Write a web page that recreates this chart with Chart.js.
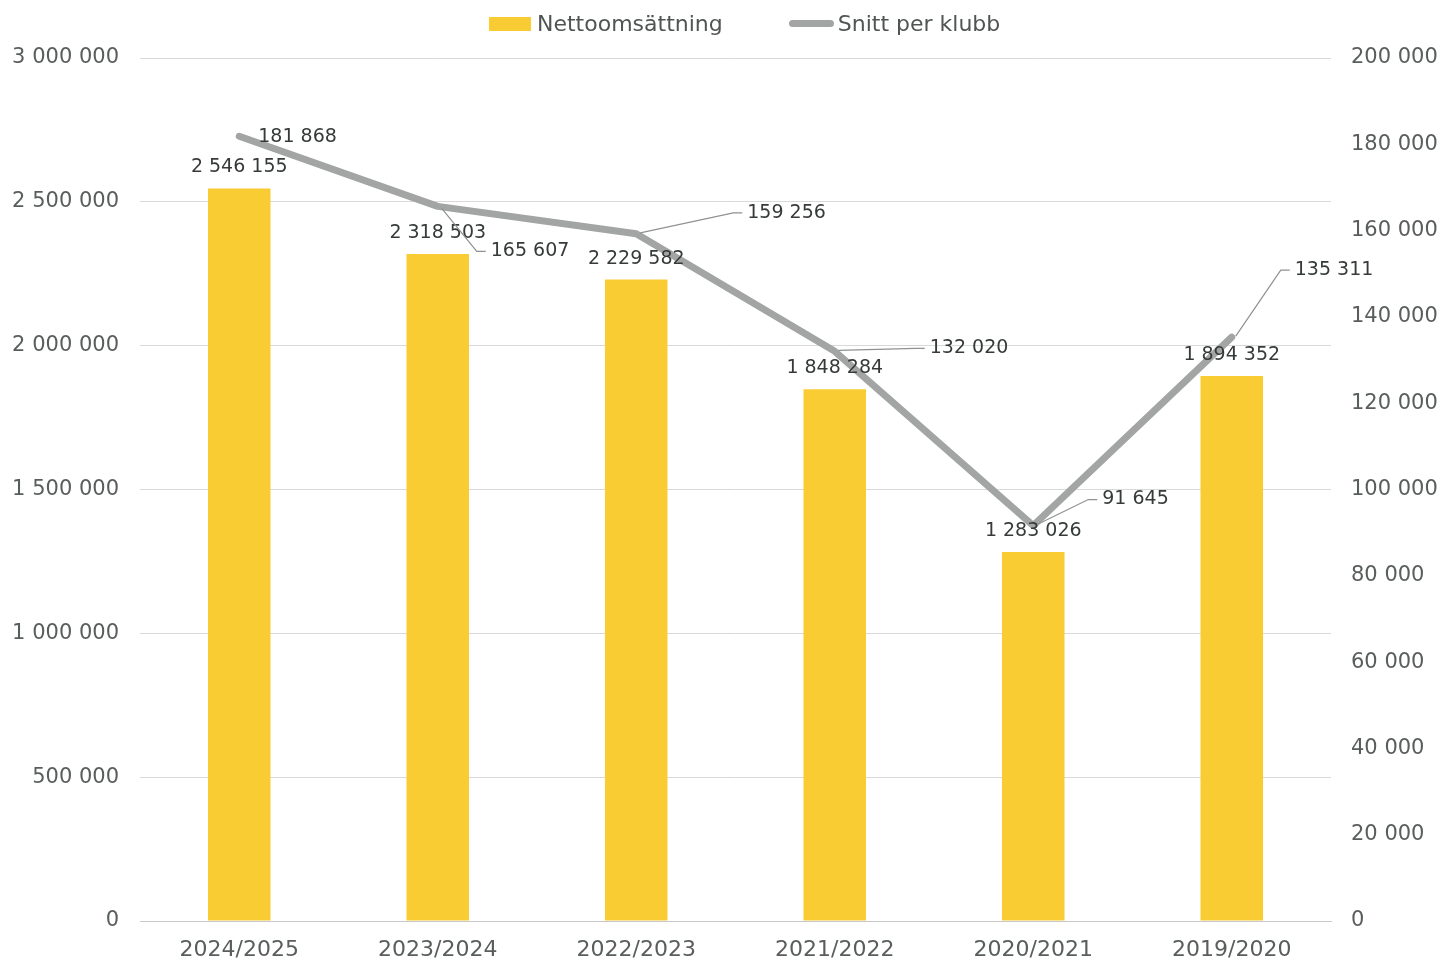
<!DOCTYPE html>
<html>
<head>
<meta charset="utf-8">
<script src="https://cdn.jsdelivr.net/npm/chart.js@4.4.1/dist/chart.umd.min.js"></script>
<style>
  html, body { margin: 0; padding: 0; background: #fff; }
  .wrap { position: relative; width: 1442px; height: 965px; }
  .legend { position: absolute; top: 11px; left: 489px; display: flex; align-items: center;
            font-family: "DejaVu Sans", sans-serif; font-size: 22px; color: #505554; }
  .legend .item { display: flex; align-items: center; }
  .legend .bar { width: 42px; height: 14px; background: #f9cc33; margin-right: 6px; }
  .legend .line { width: 45px; height: 7px; border-radius: 4px; background: #a2a5a4; margin-right: 4px; }
</style>
</head>
<body>
<div class="wrap">
  <canvas id="chart" width="1442" height="965"></canvas>
  <div class="legend">
    <div class="item"><span class="bar"></span>Nettoomsättning</div>
    <div class="item" style="margin-left:66px"><span class="line"></span>Snitt per klubb</div>
  </div>
</div>
<script>
const seasons = ['2024/2025', '2023/2024', '2022/2023', '2021/2022', '2020/2021', '2019/2020'];
const nettoomsattning = [2546155, 2318503, 2229582, 1848284, 1283026, 1894352];
const snittPerKlubb = [181868, 165607, 159256, 132020, 91645, 135311];

// label position for the line values, relative to the point: [dx, dy, leader?]
const lineLabelOffsets = [
  [19, 1, false],
  [53, 45, true],
  [111, -21, true],
  [95, -3, true],
  [69, -26, true],
  [63, -67, true]
];

const fmt = v => String(Math.round(v)).replace(/\B(?=(\d{3})+(?!\d))/g, ' ');
const FONT = '"DejaVu Sans", sans-serif';

// egna dataetiketter (ingen datalabels-plugin tillgänglig)
const valueLabels = {
  id: 'valueLabels',
  afterDatasetsDraw(chart) {
    const ctx = chart.ctx;
    ctx.save();
    ctx.font = '19px ' + FONT;
    ctx.fillStyle = '#363b3a';
    ctx.textBaseline = 'middle';

    // bar labels
    chart.getDatasetMeta(0).data.forEach((bar, i) => {
      ctx.textAlign = 'center';
      ctx.fillText(fmt(nettoomsattning[i]), bar.x, bar.y - 21);
    });

    // line labels with leader lines
    chart.getDatasetMeta(1).data.forEach((pt, i) => {
      const [dx, dy, leader] = lineLabelOffsets[i];
      const lx = pt.x + dx, ly = pt.y + dy;
      if (leader) {
        ctx.strokeStyle = '#8e9291';
        ctx.lineWidth = 1.2;
        ctx.beginPath();
        ctx.moveTo(pt.x + 4, pt.y + (dy > 0 ? 2 : -1));
        ctx.lineTo(lx - 14, ly);
        ctx.lineTo(lx - 5, ly);
        ctx.stroke();
      }
      ctx.textAlign = 'left';
      ctx.fillText(fmt(snittPerKlubb[i]), lx, ly);
    });
    ctx.restore();
  }
};

new Chart(document.getElementById('chart'), {
  data: {
    labels: seasons,
    datasets: [
      {
        type: 'bar',
        label: 'Nettoomsättning',
        data: nettoomsattning,
        backgroundColor: '#f9cc33',
        yAxisID: 'y',
        categoryPercentage: 1,
        barPercentage: 0.315,
        order: 2
      },
      {
        type: 'line',
        label: 'Snitt per klubb',
        data: snittPerKlubb,
        borderColor: '#a2a5a4',
        borderWidth: 7,
        borderCapStyle: 'round',
        borderJoinStyle: 'round',
        pointRadius: 0,
        tension: 0,
        yAxisID: 'y1',
        order: 1
      }
    ]
  },
  options: {
    responsive: false,
    animation: false,
    layout: { padding: { top: 58, left: 0, right: 0, bottom: 0 } },
    plugins: {
      legend: { display: false },
      tooltip: { enabled: false }
    },
    scales: {
      x: {
        grid: { display: false },
        border: { color: '#c8c8c8' },
        ticks: { color: '#595e5d', font: { family: FONT, size: 22 }, padding: 8 },
        afterFit(s) { s.height = 44; }
      },
      y: {
        position: 'left',
        min: 0, max: 3000000,
        grid: { color: '#d9d9d9', drawTicks: false },
        border: { display: false },
        ticks: { stepSize: 500000, color: '#595e5d', font: { family: FONT, size: 21 }, padding: 21,
                 callback: v => fmt(v) },
        afterFit(s) { s.width = 140; }
      },
      y1: {
        position: 'right',
        min: 0, max: 200000,
        grid: { display: false, drawTicks: false },
        border: { display: false },
        ticks: { stepSize: 20000, color: '#595e5d', font: { family: FONT, size: 21 }, padding: 20,
                 callback: v => fmt(v) },
        afterFit(s) { s.width = 111; }
      }
    }
  },
  plugins: [valueLabels]
});
</script>
</body>
</html>
